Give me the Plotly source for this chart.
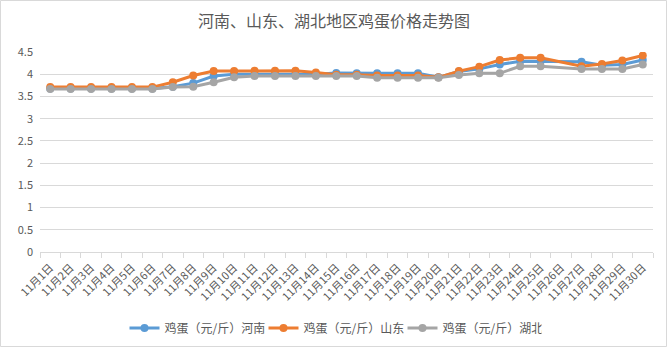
import plotly.graph_objects as go

days = [f"11月{d}日" for d in range(1, 31)]

henan = [3.68, 3.68, 3.68, 3.68, 3.68, 3.68, 3.72, 3.80, 3.96, 4.00,
         4.00, 4.00, 4.00, 4.00, 4.03, 4.02, 4.02, 4.02, 4.02, 3.93,
         4.06, 4.12, 4.22, 4.29, 4.29, None, 4.28, 4.20, 4.22, 4.32]
shandong = [3.71, 3.71, 3.71, 3.71, 3.71, 3.71, 3.82, 3.97, 4.07, 4.07,
            4.08, 4.08, 4.08, 4.04, 3.99, 3.99, 3.97, 3.97, 3.97, 3.93,
            4.07, 4.17, 4.32, 4.37, 4.37, None, 4.18, 4.23, 4.31, 4.42]
hubei = [3.67, 3.67, 3.67, 3.67, 3.67, 3.67, 3.71, 3.72, 3.82, 3.93,
         3.96, 3.96, 3.96, 3.96, 3.96, 3.96, 3.92, 3.92, 3.92, 3.92,
         3.98, 4.02, 4.02, 4.18, 4.18, None, 4.12, 4.12, 4.12, 4.22]

series = [
    ("鸡蛋（元/斤）河南", henan, "#5B9BD5"),
    ("鸡蛋（元/斤）山东", shandong, "#ED7D31"),
    ("鸡蛋（元/斤）湖北", hubei, "#A5A5A5"),
]

FONT = "Noto Sans CJK SC"
TXT = "#595959"

fig = go.Figure()
for name, vals, color in series:
    fig.add_trace(go.Scatter(
        x=days, y=vals, name=name, mode="lines+markers",
        connectgaps=True,
        line=dict(color=color, width=3),
        marker=dict(color=color, size=8, symbol="circle"),
    ))

W, H = 668, 348
L, R, T, B = 40, 15, 52, 96
pw, ph = W - L - R, H - T - B

def px_to_paper_x(px):
    return (px - L) / pw

def px_to_paper_y(py):
    return (H - B - py) / ph

fig.update_layout(
    width=W, height=H,
    margin=dict(l=L, r=R, t=T, b=B, pad=0, autoexpand=False),
    paper_bgcolor="white", plot_bgcolor="white",
    font=dict(family=FONT, color=TXT, size=12),
    title=dict(text="河南、山东、湖北地区鸡蛋价格走势图",
               x=px_to_paper_x(334), xref="paper", xanchor="center",
               y=1 - 21 / H, yref="container", yanchor="middle",
               font=dict(family=FONT, size=16, color=TXT)),
    showlegend=True,
    legend=dict(orientation="h", x=px_to_paper_x(333), xanchor="center",
                y=px_to_paper_y(328), yanchor="middle",
                font=dict(family=FONT, size=12, color=TXT),
                bgcolor="rgba(0,0,0,0)", itemwidth=30,
                entrywidth=94, entrywidthmode="pixels",
                tracegroupgap=0),
    xaxis=dict(type="category", tickangle=-45, tickmode="linear", dtick=1,
               tickfont=dict(family=FONT, size=11, color=TXT),
               showline=True, linecolor="#D9D9D9", linewidth=1,
               ticks="outside", tickson="boundaries", ticklen=5,
               tickcolor="#D9D9D9", showgrid=False, automargin=False,
               ticklabelstandoff=4,
               range=[-0.5, 29.5]),
    yaxis=dict(range=[0, 4.5], dtick=0.5, showgrid=True,
               gridcolor="#D9D9D9", gridwidth=1, zeroline=False,
               showline=False, ticks="", automargin=False,
               tickfont=dict(family=FONT, size=11, color=TXT),
               ticklabelstandoff=6),
    shapes=[dict(type="rect", xref="paper", yref="paper",
                 x0=px_to_paper_x(0.5), x1=px_to_paper_x(666.5),
                 y0=px_to_paper_y(346.5), y1=px_to_paper_y(0.5),
                 line=dict(color="#D9D9D9", width=1),
                 fillcolor="rgba(0,0,0,0)", layer="below")],
)

fig.write_html("out.html")
